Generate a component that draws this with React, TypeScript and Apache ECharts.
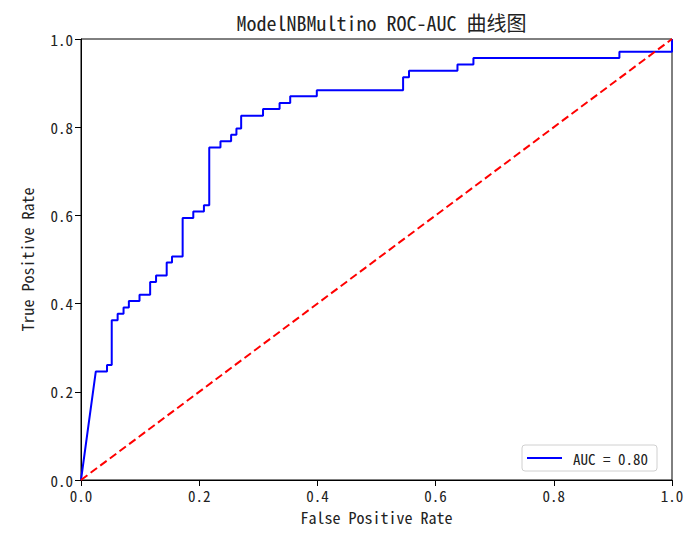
import React, { useEffect, useRef } from "react";
import * as echarts from "echarts";

const TITLE = "ModelNBMultino ROC-AUC 曲线图";
const X_NAME = "False Positive Rate";
const Y_NAME = "True Positive Rate";
const LEGEND_LABEL = "AUC = 0.80";

// ROC curve vertices (false positive rate, true positive rate)
const fpr = [
  0, 0.025, 0.044, 0.044, 0.052, 0.052, 0.062, 0.062, 0.072, 0.072,
  0.081, 0.081, 0.099, 0.099, 0.117, 0.117, 0.127, 0.127, 0.145, 0.145,
  0.154, 0.154, 0.172, 0.172, 0.19, 0.19, 0.208, 0.208, 0.217, 0.217,
  0.236, 0.236, 0.254, 0.254, 0.263, 0.263, 0.271, 0.271, 0.308, 0.308,
  0.336, 0.336, 0.354, 0.354, 0.399, 0.399, 0.545, 0.545, 0.555, 0.555,
  0.637, 0.637, 0.664, 0.664, 0.911, 0.911, 1.0, 1.0,
];
const tpr = [
  0, 0.246, 0.246, 0.261, 0.261, 0.362, 0.362, 0.377, 0.377, 0.391,
  0.391, 0.406, 0.406, 0.42, 0.42, 0.449, 0.449, 0.464, 0.464, 0.493,
  0.493, 0.507, 0.507, 0.594, 0.594, 0.609, 0.609, 0.623, 0.623, 0.754,
  0.754, 0.768, 0.768, 0.783, 0.783, 0.797, 0.797, 0.826, 0.826, 0.841,
  0.841, 0.855, 0.855, 0.87, 0.87, 0.884, 0.884, 0.913, 0.913, 0.928,
  0.928, 0.942, 0.942, 0.957, 0.957, 0.971, 0.971, 1.0,
];

// chance diagonal
const diagX = [0, 1];
const diagY = [0, 1];

const FONT = '"Noto Sans Mono CJK SC", "Noto Sans CJK SC", "DejaVu Sans Mono", monospace';

export default function App() {
  const ref = useRef<HTMLDivElement>(null);

  useEffect(() => {
    document.body.style.margin = "0";
    if (!ref.current) return;
    const chart = echarts.init(ref.current, null, { renderer: "svg" });
    const rocData = fpr.map((x, i) => [x, tpr[i]]);
    const diagData = diagX.map((x, i) => [x, diagY[i]]);

    const axisCommon = {
      type: "value" as const,
      min: 0,
      max: 1,
      interval: 0.2,
      nameLocation: "middle" as const,
      nameTextStyle: { fontFamily: FONT, fontSize: 16, color: "#222" },
      axisLine: { show: true, lineStyle: { color: "#000", width: 1 } },
      axisTick: { show: true, length: 6, lineStyle: { color: "#000" } },
      axisLabel: {
        fontFamily: FONT,
        fontSize: 15,
        color: "#222",
        formatter: (v: number) => v.toFixed(1),
      },
      splitLine: { show: false },
    };

    chart.setOption({
      animation: false,
      backgroundColor: "#fff",
      title: {
        text: TITLE,
        left: 376.5,
        textAlign: "center",
        top: 7,
        textStyle: { fontFamily: FONT, fontSize: 20, fontWeight: "normal", color: "#222" },
      },
      grid: {
        left: 81,
        right: 21,
        top: 39,
        bottom: 60,
        show: true,
        borderColor: "#000",
        borderWidth: 1,
        backgroundColor: "transparent",
      },
      legend: {
        data: [{ name: LEGEND_LABEL, icon: "rect" }],
        left: 522,
        top: 445,
        padding: [5, 9, 5, 5],
        itemWidth: 35,
        itemHeight: 2,
        itemGap: 10,
        borderColor: "#d0d0d0",
        borderWidth: 1,
        borderRadius: 3,
        backgroundColor: "#fff",
        textStyle: { fontFamily: FONT, fontSize: 15, color: "#222", padding: [0, 0, 0, 6], lineHeight: 16 },
      },
      xAxis: {
        ...axisCommon,
        name: X_NAME,
        nameGap: 29,
        axisLabel: { ...axisCommon.axisLabel, margin: 8 },
      },
      yAxis: {
        ...axisCommon,
        name: Y_NAME,
        nameGap: 46,
        nameRotate: 90,
        axisLabel: { ...axisCommon.axisLabel, margin: 8 },
      },
      series: [
        {
          name: LEGEND_LABEL,
          type: "line",
          data: rocData,
          symbol: "none",
          showSymbol: false,
          lineStyle: { color: "#0000ff", width: 2 },
          itemStyle: { color: "#0000ff" },
          z: 3,
        },
        {
          name: "chance",
          type: "line",
          data: diagData,
          symbol: "none",
          showSymbol: false,
          lineStyle: { color: "#ff0000", width: 2, type: [8, 4] },
          itemStyle: { color: "#ff0000" },
          z: 4,
        },
      ],
    });

    return () => chart.dispose();
  }, []);

  return <div ref={ref} style={{ width: 693, height: 540 }} />;
}
